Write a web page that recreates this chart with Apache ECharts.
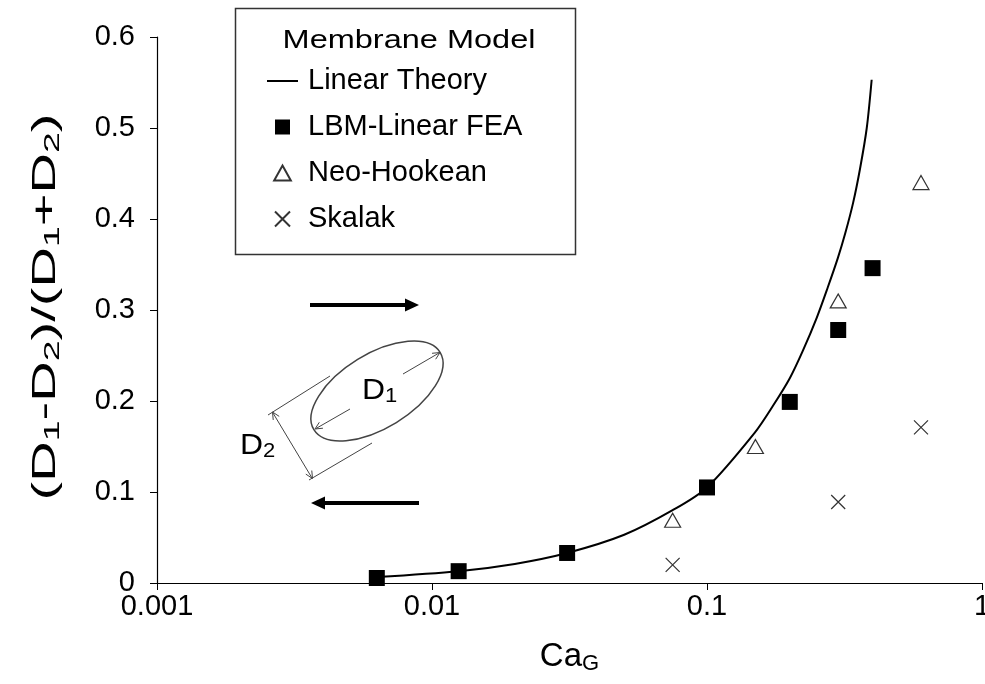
<!DOCTYPE html>
<html>
<head>
<meta charset="utf-8">
<script src="https://cdn.jsdelivr.net/npm/echarts@6/dist/echarts.min.js"></script>
<style>
html,body{margin:0;padding:0;background:#fff;}
#chart{width:985px;height:684px;}
</style>
</head>
<body>
<div id="chart"></div>
<script>
// ---- data ----
const xTickLabels = ['0.001', '0.01', '0.1', '1'];
const yTickLabels = ['0', '0.1', '0.2', '0.3', '0.4', '0.5', '0.6'];

const caTheory = [0.0063, 0.0125, 0.02, 0.031, 0.05, 0.075, 0.1, 0.149, 0.174, 0.2, 0.223, 0.251, 0.275, 0.299, 0.318, 0.34, 0.36, 0.381, 0.397];
const dTheory  = [0.0066, 0.013, 0.021, 0.033, 0.053, 0.080, 0.105, 0.165, 0.195, 0.225, 0.255, 0.292, 0.325, 0.357, 0.384, 0.418, 0.455, 0.500, 0.553];

const caLBM = [0.0063, 0.0125, 0.031, 0.1, 0.2, 0.3, 0.4];
const dLBM  = [0.0055, 0.013, 0.033, 0.105, 0.199, 0.278, 0.346];

const caNeo = [0.075, 0.15, 0.3, 0.6];
const dNeo  = [0.069, 0.150, 0.310, 0.440];

const caSkalak = [0.075, 0.3, 0.6];
const dSkalak  = [0.020, 0.089, 0.171];

const seriesNames = ['Linear Theory', 'LBM-Linear FEA', 'Neo-Hookean', 'Skalak'];
const legendTitle = 'Membrane Model';
const yTitleRich = '{m|(D}{s|1}{m|-D}{s|2}{m|)/(D}{s|1}{m|+D}{s|2}{m|)}';
const xTitleRich = '{m|Ca}{s|G}';

// ---- helpers ----
const FONT = 'Liberation Sans, Arial, sans-serif';
const zip = (a, b) => a.map((v, i) => [v, b[i]]);

function arrowHead(tip, dir, len, ang) {
  const [dx, dy] = dir;
  const n = Math.hypot(dx, dy);
  const ux = dx / n, uy = dy / n;
  const c = Math.cos(ang), s = Math.sin(ang);
  const b1 = [tip[0] - len * (ux * c - uy * s), tip[1] - len * (uy * c + ux * s)];
  const b2 = [tip[0] - len * (ux * c + uy * s), tip[1] - len * (uy * c - ux * s)];
  return [b1, tip, b2];
}

const gray = '#444';
const thin = { stroke: gray, lineWidth: 1, fill: null };
const labelRich = {
  a: { fontSize: 29, fontFamily: FONT, fill: '#000', lineHeight: 30, verticalAlign: 'top' },
  b: { fontSize: 20, fontFamily: FONT, fill: '#000', lineHeight: 20, verticalAlign: 'bottom' }
};

const graphics = [
  // legend box
  { type: 'rect', z: 0, shape: { x: 235.5, y: 8.5, width: 340, height: 246 },
    style: { fill: 'rgba(0,0,0,0)', stroke: '#333', lineWidth: 1.5 } },
  { type: 'text', z: 10, x: 409, y: 41, scaleX: 1.25,
    style: { text: legendTitle, font: '26px ' + FONT, fill: '#000', align: 'center', verticalAlign: 'middle' } },
  // y-axis title (stretched like the reference)
  { type: 'text', z: 10, x: 46, y: 307, rotation: Math.PI / 2, scaleX: 1.7,
    style: { text: yTitleRich, align: 'center', verticalAlign: 'middle',
      rich: {
        m: { fontSize: 33, fontFamily: FONT, fill: '#000', lineHeight: 36 },
        s: { fontSize: 22, fontFamily: FONT, fill: '#000', lineHeight: 20, verticalAlign: 'bottom' } } } },
  // flow arrows
  { type: 'line', shape: { x1: 310, y1: 305, x2: 407, y2: 305 }, style: { stroke: '#000', lineWidth: 4 } },
  { type: 'polygon', shape: { points: [[405, 298.5], [419, 305], [405, 311.5]] }, style: { fill: '#000' } },
  { type: 'line', shape: { x1: 323, y1: 503, x2: 419, y2: 503 }, style: { stroke: '#000', lineWidth: 4 } },
  { type: 'polygon', shape: { points: [[325, 496.5], [311, 503], [325, 509.5]] }, style: { fill: '#000' } },
  // ellipse
  { type: 'ellipse', x: 377, y: 391, rotation: 31.5 * Math.PI / 180,
    shape: { cx: 0, cy: 0, rx: 74, ry: 37 }, style: { stroke: gray, lineWidth: 1.5, fill: null } },
  // D1 arrows
  { type: 'line', shape: { x1: 350, y1: 409, x2: 316, y2: 428.5 }, style: thin },
  { type: 'polyline', shape: { points: arrowHead([315, 429], [-0.855, 0.524], 8, 0.45) }, style: thin },
  { type: 'line', shape: { x1: 403, y1: 374, x2: 439, y2: 353 }, style: thin },
  { type: 'polyline', shape: { points: arrowHead([440, 352.5], [0.855, -0.524], 8, 0.45) }, style: thin },
  // extension lines
  { type: 'line', shape: { x1: 268, y1: 415, x2: 330, y2: 376 }, style: thin },
  { type: 'line', shape: { x1: 309, y1: 480, x2: 372, y2: 443 }, style: thin },
  // D2 arrow
  { type: 'line', shape: { x1: 273, y1: 413, x2: 312, y2: 478 }, style: thin },
  { type: 'polyline', shape: { points: arrowHead([272.5, 412], [-0.515, -0.857], 8, 0.45) }, style: thin },
  { type: 'polyline', shape: { points: arrowHead([312.5, 478.5], [0.515, 0.857], 8, 0.45) }, style: thin },
  // labels
  { type: 'text', x: 362, y: 376, scaleX: 1.1, style: { text: '{a|D}{b|1}', rich: labelRich } },
  { type: 'text', x: 240, y: 431, scaleX: 1.1, style: { text: '{a|D}{b|2}', rich: labelRich } }
];

const chart = echarts.init(document.getElementById('chart'), null, { renderer: 'canvas' });

const option = {
  animation: false,
  backgroundColor: '#fff',
  textStyle: { fontFamily: FONT },
  grid: { left: 157, right: 3, top: 37, bottom: 101, containLabel: false, outerBoundsMode: 'none' },
  xAxis: {
    type: 'log', logBase: 10, min: 0.001, max: 1,
    name: xTitleRich, nameLocation: 'middle', nameGap: 56,
    nameTextStyle: { rich: {
      m: { fontSize: 33, fontFamily: FONT, color: '#000', lineHeight: 36 },
      s: { fontSize: 22, fontFamily: FONT, color: '#000', lineHeight: 20, verticalAlign: 'bottom' } } },
    axisLine: { show: true, lineStyle: { color: '#000', width: 1.2 } },
    axisTick: { show: true, inside: false, length: 7, lineStyle: { color: '#000' } },
    minorTick: { show: false },
    splitLine: { show: false },
    axisLabel: { fontSize: 29, color: '#000', fontFamily: FONT, margin: 9,
      formatter: v => xTickLabels[Math.round(Math.log10(v)) + 3] },
  },
  yAxis: {
    type: 'value', min: 0, max: 0.6, interval: 0.1,
    axisLine: { show: true, lineStyle: { color: '#000', width: 1.2 } },
    axisTick: { show: true, inside: false, length: 7, lineStyle: { color: '#000' } },
    splitLine: { show: false },
    axisLabel: { fontSize: 29, color: '#000', fontFamily: FONT, margin: 22,
      formatter: v => yTickLabels[Math.round(v * 10)] },
  },
  legend: {
    orient: 'vertical', left: 267, top: 66, padding: 0,
    itemWidth: 31, itemHeight: 15, itemGap: 16,
    textStyle: { fontSize: 29, fontFamily: FONT, color: '#000', lineHeight: 30, padding: [0, 0, 0, 5] },
    data: [
      { name: seriesNames[0], icon: 'path://M0,0H31V2H0Z' },
      { name: seriesNames[1], icon: 'path://M0,0H10V10H0Z' },
      { name: seriesNames[2], icon: 'path://M5,0L10,9L0,9Z' },
      { name: seriesNames[3], icon: 'path://M0,0L10,10M10,0L0,10' }
    ]
  },
  graphic: graphics,
  series: [
    { name: seriesNames[0], type: 'line', data: zip(caTheory, dTheory), symbol: 'none', smooth: 0.3,
      lineStyle: { color: '#000', width: 2 }, itemStyle: { color: '#000' }, z: 2 },
    { name: seriesNames[1], type: 'scatter', data: zip(caLBM, dLBM), symbol: 'rect', symbolSize: 16,
      itemStyle: { color: '#000', opacity: 1 }, z: 3 },
    { name: seriesNames[2], type: 'scatter', data: zip(caNeo, dNeo), symbol: 'triangle', symbolSize: [16, 14],
      itemStyle: { color: '#fff', borderColor: '#333', borderWidth: 1.2, opacity: 1 }, z: 3 },
    { name: seriesNames[3], type: 'scatter', data: zip(caSkalak, dSkalak), symbol: 'path://M0,0L10,10M10,0L0,10', symbolSize: 14,
      itemStyle: { color: 'rgba(0,0,0,0)', borderColor: '#333', borderWidth: 1.2, opacity: 1 }, z: 3 }
  ]
};
chart.setOption(option);
</script>
</body>
</html>
